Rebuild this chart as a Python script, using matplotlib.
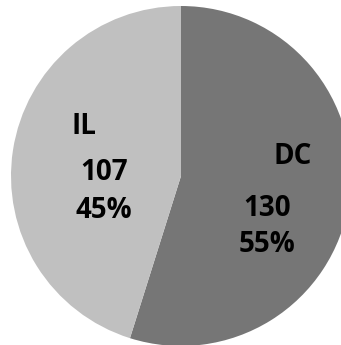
import numpy as np
import matplotlib
matplotlib.use('Agg')
import matplotlib.pyplot as plt

labels = ['DC', 'IL']
counts = [130, 107]
colors = ['#767676', '#c0c0c0']

total = sum(counts)
pcts = [round(100.0 * c / total) for c in counts]

fig = plt.figure(figsize=(3.41, 3.45), dpi=100)
ax = fig.add_axes([0, 0, 1, 1])

# pixel -> data helper, radius 1 == 170 px, centre at (181, 176)
R, CX, CY = 170.0, 181.0, 176.0
def px(x, y):
    return (x - CX) / R, (CY - y) / R

ax.pie(counts, colors=colors, startangle=90, counterclock=False,
       wedgeprops=dict(linewidth=0))

ax.set_xlim(-CX / R, (341 - CX) / R)
ax.set_ylim(-(345 - CY) / R, CY / R)
ax.set_aspect('auto')
ax.axis('off')

font = dict(family=['Open Sans', 'DejaVu Sans'], fontweight='bold', fontsize=20,
            color='black', ha='center', va='center')

name_pos = [(293, 157), (84, 127)]
val_pos = [(267, 208), (104, 173)]
for i in range(len(counts)):
    ax.text(*px(*name_pos[i]), labels[i], **font)
    vx, vy = val_pos[i]
    ax.text(*px(vx, vy), str(counts[i]), **font)
    ax.text(*px(vx, vy + 37), f'{pcts[i]}%', **font)

fig.savefig('out.png', dpi=100)
